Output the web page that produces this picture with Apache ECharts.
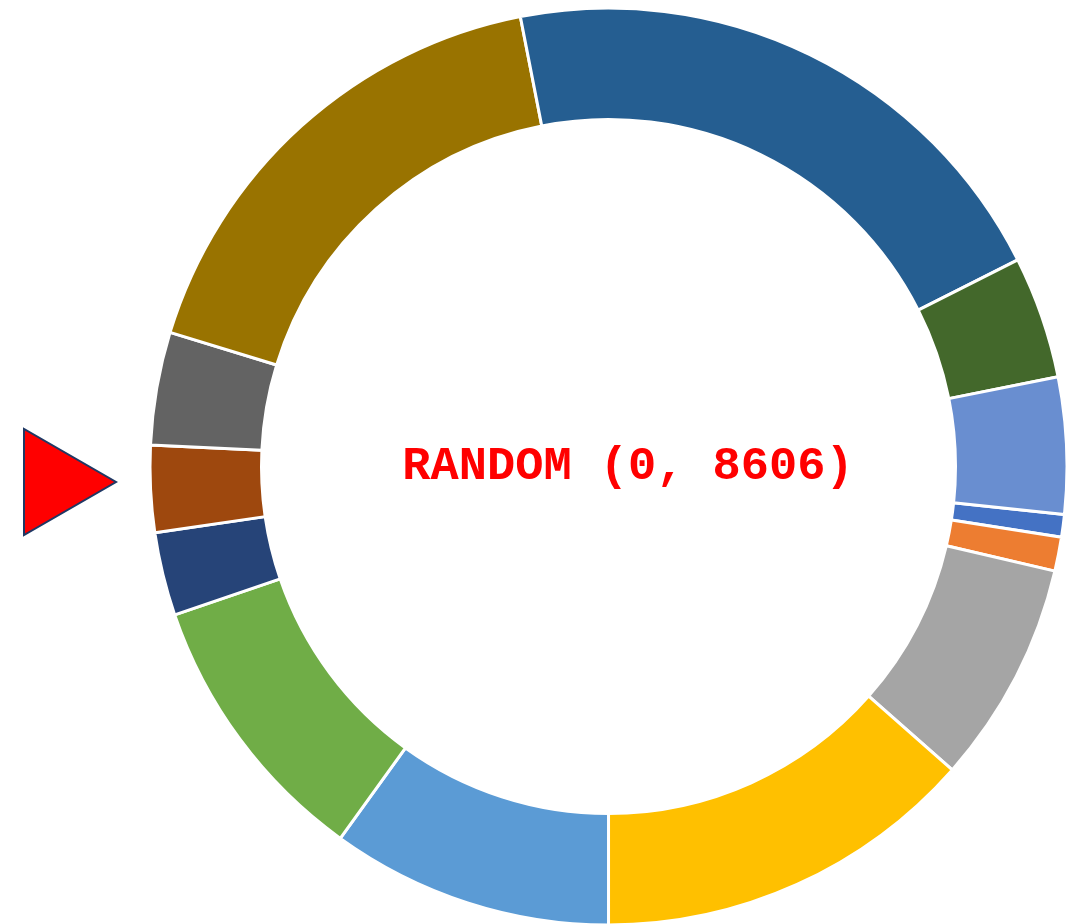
<!DOCTYPE html>
<html>
<head>
<meta charset="utf-8">
<title>Random wheel</title>
<script src="https://cdn.jsdelivr.net/npm/echarts@6/dist/echarts.min.js"></script>
<style>
    html, body { margin: 0; padding: 0; background: #fff; }
    #wheelChart { width: 1071px; height: 924px; }
</style>
</head>
<body>
<div id="wheelChart"></div>
<script>
// slice names / values, order = clockwise from the small blue slice
var categories = ['1', '2', '3', '4', '5', '6', '7', '8', '9', '10', '11', '12', '13'];
var values = [69, 103, 675, 1161, 856, 844, 253, 263, 342, 1480, 1776, 371, 413];
var colors = ['#4472C4', '#ED7D31', '#A5A5A5', '#FFC000', '#5B9BD5', '#70AD47',
    '#264478', '#9E480E', '#636363', '#997300', '#255E91', '#43682B', '#698ED0'];
var centerText = 'RANDOM (0, 8606)';

var chart = echarts.init(document.getElementById('wheelChart'));

var pieData = [];
categories.forEach(function(c, i) {
    pieData.push({ name: c, value: values[i], itemStyle: { color: colors[i] } });
});

var option = {
    animation: false,
    graphic: [
        {
            type: 'text',
            style: {
                x: 628,
                y: 467,
                text: centerText,
                fill: '#FF0000',
                font: 'bold 47px "Liberation Mono", monospace',
                textAlign: 'center',
                textVerticalAlign: 'middle'
            }
        },
        {
            // pointer
            type: 'polygon',
            shape: { points: [[24, 429], [24, 535], [116, 482]] },
            style: { fill: '#FF0000', stroke: '#1F3864', lineWidth: 2 }
        }
    ],
    series: [
        {
            type: 'pie',
            center: [608.5, 466.5],
            radius: [347, 458.5],
            startAngle: -6,
            clockwise: true,
            avoidLabelOverlap: false,
            label: { show: false },
            labelLine: { show: false },
            emphasis: { scale: false },
            itemStyle: { borderColor: '#fff', borderWidth: 3 },
            data: pieData
        }
    ]
};

chart.setOption(option, true);
</script>
</body>
</html>
